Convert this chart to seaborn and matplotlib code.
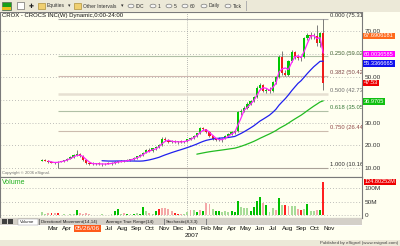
import numpy as np
import pandas as pd
import matplotlib
matplotlib.use("Agg")
import matplotlib.pyplot as plt
import matplotlib.transforms as mtransforms
from matplotlib.patches import Rectangle, Circle
import seaborn as sns

# ---------------- data (weekly CROX bars) ----------------
week_end = pd.date_range("2006-02-17", periods=90, freq="7D")

opens = [13.4, 13.6, 13.3, 12.7, 12.4, 12.6, 12.9, 13.2, 13.6, 14.2,
         15.0, 15.8, 16.2, 15.4, 13.8, 12.3, 12.1, 11.8, 12.2, 11.9,
         11.7, 12.1, 12.0, 12.4, 12.8, 13.1, 12.9, 13.4, 13.7, 14.0,
         14.5, 15.2, 16.0, 16.9, 18.1, 17.5, 18.7, 19.3, 20.2, 23.0,
         22.3, 21.6, 21.8, 21.4, 21.7, 21.5, 21.9, 22.7, 23.3, 24.2,
         25.3, 27.5, 27.0, 26.1, 24.2, 23.0, 22.5, 22.2, 23.0, 24.2,
         25.0, 26.0, 26.3, 34.6, 35.2, 36.6, 38.3, 39.4, 41.1, 45.2,
         46.6, 44.0, 44.4, 43.9, 47.6, 49.8, 58.9, 51.8, 51.0, 56.9,
         60.9, 58.5, 58.2, 58.6, 67.0, 68.5, 68.0, 67.7, 64.6, 69.2]
highs = [14.2, 14.0, 13.6, 13.1, 12.9, 13.2, 13.4, 13.8, 14.4, 15.2,
         16.3, 18.0, 16.6, 15.7, 14.1, 12.9, 12.6, 12.5, 12.6, 12.3,
         12.4, 12.6, 12.6, 13.0, 13.3, 13.5, 13.6, 13.9, 14.2, 14.8,
         15.5, 16.3, 17.2, 18.4, 18.8, 19.0, 19.8, 20.6, 23.5, 23.6,
         22.8, 22.2, 22.3, 22.0, 22.2, 22.1, 23.0, 23.6, 24.5, 25.6,
         28.0, 28.3, 27.4, 26.4, 24.6, 23.4, 23.5, 23.2, 24.5, 25.3,
         26.4, 26.8, 34.9, 35.8, 37.2, 38.8, 40.0, 41.6, 45.8, 47.3,
         47.0, 45.3, 45.6, 48.2, 50.3, 59.6, 61.5, 53.2, 57.4, 61.6,
         61.3, 59.4, 59.3, 67.5, 69.3, 69.6, 69.0, 72.7, 69.8, 75.31]
lows = [13.0, 13.1, 12.5, 12.2, 12.1, 10.16, 12.6, 12.9, 13.3, 13.9,
        14.6, 15.4, 15.1, 13.4, 11.9, 11.6, 11.4, 11.3, 11.5, 11.2,
        11.4, 11.7, 11.6, 12.1, 12.3, 12.6, 12.7, 13.0, 13.3, 13.7,
        14.2, 14.9, 15.6, 16.5, 17.1, 17.2, 18.2, 18.9, 19.9, 21.9,
        21.3, 21.0, 21.1, 20.8, 21.0, 20.9, 21.6, 22.3, 23.0, 23.9,
        25.0, 26.6, 25.6, 23.8, 22.6, 21.9, 21.8, 21.7, 22.7, 23.8,
        24.6, 25.2, 26.0, 33.5, 34.6, 36.0, 37.6, 38.8, 40.7, 44.3,
        43.6, 42.9, 43.1, 43.5, 46.9, 49.3, 51.0, 50.2, 50.6, 56.3,
        57.7, 57.4, 57.1, 58.1, 66.1, 66.7, 66.5, 63.4, 63.0, 44.2]
closes = [13.6, 13.3, 12.7, 12.4, 12.6, 12.9, 13.2, 13.6, 14.2, 15.0,
          15.8, 16.2, 15.4, 13.8, 12.3, 12.1, 11.8, 12.2, 11.9, 11.7,
          12.1, 12.0, 12.4, 12.8, 13.1, 12.9, 13.4, 13.7, 14.0, 14.5,
          15.2, 16.0, 16.9, 18.1, 17.5, 18.7, 19.3, 20.2, 23.0, 22.3,
          21.6, 21.8, 21.4, 21.7, 21.5, 21.9, 22.7, 23.3, 24.2, 25.3,
          27.5, 27.0, 26.1, 24.2, 23.0, 22.5, 22.2, 23.0, 24.2, 25.0,
          26.0, 26.3, 34.6, 35.2, 36.6, 38.3, 39.4, 41.1, 45.2, 46.6,
          44.0, 44.4, 43.9, 47.6, 49.8, 58.9, 51.8, 51.0, 56.9, 60.9,
          58.5, 58.2, 58.6, 67.0, 68.5, 68.0, 67.7, 64.6, 69.2, 47.53]
volume_m = [12, 5, 11, 9, 8, 9, 3, 4, 3, 5,
            6, 20, 9, 7, 8, 5, 3, 3, 3, 4,
            3, 3, 4, 15, 25, 6, 11, 7, 6, 7,
            8, 6, 32, 15, 9, 6, 15, 25, 26, 27,
            25, 15, 9, 6, 5, 4, 13, 19, 22, 12,
            20, 18, 48, 42, 25, 16, 16, 13, 16, 13,
            16, 14, 55, 31, 29, 26, 16, 30, 55, 68,
            45, 38, 12, 29, 20, 65, 38, 38, 35, 35,
            35, 25, 22, 25, 42, 16, 18, 20, 20, 124.8]
volume_tone = ("ggrRrRgggg" "gGrrrrggrg" "gggGGgrGgG" "gGGgrgGRrr" "rrRRrggrgG"
               "rGrrgGGggg" "GGGgggGGGG" "rGggrGgRrg" "grRgGggrGR")

fib_ratios = [0.000, 0.250, 0.382, 0.500, 0.618, 0.750, 1.000]
fib_prices = [75.31, 59.02, 50.42, 42.73, 35.05, 26.44, 10.16]

price_ticks = [10, 20, 30, 40, 50, 60, 70]
# 40.00 and 60.00 sit under the value boxes in the original, so they are not shown
price_tick_labels = ["10.00", "20.00", "30.00", "", "50.00", "", "70.00"]
vol_ticks = [0, 50, 100]
vol_tick_labels = ["0", "50M", "100M"]

month_dates = ["2006-03-01", "2006-04-01", "2006-07-01", "2006-08-01", "2006-09-01",
               "2006-10-01", "2006-11-01", "2006-12-01", "2007-01-01", "2007-02-01",
               "2007-03-01", "2007-04-01", "2007-05-01", "2007-06-01", "2007-07-01",
               "2007-08-01", "2007-09-01", "2007-10-01", "2007-11-01"]
month_labels = ["Mar", "Apr", "Jul", "Aug", "Sep", "Oct", "Nov", "Dec", "Jan", "Feb",
                "Mar", "Apr", "May", "Jun", "Jul", "Aug", "Sep", "Oct", "Nov"]
cursor_date = "2006-05-26"
cursor_label = "05/26/06"
title = "CROX - CROCS INC(W) Dynamic,0:00-24:00"
tab_labels = ["Volume", "Directional Movement(14,14)", "Average True Range(14)", "Stochastic(8,3,3)"]
value_boxes = [("67.6906181", 67.9, "#ff6a1a"),
               ("60.0036585", 59.9, "#ff00ff"),
               ("55.3366665", 55.9, "#1010ee"),
               ("47.53", 47.4, "#ee0000"),
               ("36.9705", 39.2, "#10c010")]
volume_box = ("124.80252M", 124.8, "#ee0000")

# ---------------- styling / layout ----------------
sns.set_style("white")
plt.rcParams["font.family"] = ["Liberation Sans", "DejaVu Sans"]

W, H = 400, 246
def fx(x):
    return x / W
def fy(y):
    return 1 - y / H

cream = "#fffff0"
fig = plt.figure(figsize=(4, 2.46), dpi=100)
fig.patch.set_facecolor(cream)

slot_px, first_px = 3.16, 42.0
x_lo = -first_px / slot_px
x_hi = (362 - first_px) / slot_px

ax = fig.add_axes([0, fy(177), 362 / W, (177 - 12) / H])
ax_vol = fig.add_axes([0, fy(218), 362 / W, (218 - 177) / H])
for a in (ax, ax_vol):
    a.set_facecolor(cream)
    for s in a.spines.values():
        s.set_color("#7a7a7a")
        s.set_linewidth(0.8)

idx = np.arange(len(closes))
o = np.array(opens); c = np.array(closes); hi = np.array(highs); lo = np.array(lows)
up = c >= o

# grid
ax.set_yticks(price_ticks)
ax.set_yticklabels(price_tick_labels)
ax.grid(axis="y", linestyle=(0, (1, 2.5)), color="#a8a8a8", linewidth=0.6)
ax.grid(axis="x", visible=False)

# fib lines (labels are cut by the price scale, as in the original)
fib_start = int(np.argmin(lo))
fib_end = len(closes) - 1 + 1.5
fib_line_colors = ["#a8a8a8", "#b0c0a6", "#d0b8b0", "#e6e0d2", "#b0c0a6", "#ccbcae", "#aaa298"]
fib_text_colors = ["#303030", "#4a6a3a", "#804848", "#707070", "#3a7a3a", "#904848", "#303030"]
fib_lw = [0.8, 0.8, 0.8, 1.8, 0.8, 0.8, 0.8]
for r, p, lc, tc, lw in zip(fib_ratios, fib_prices, fib_line_colors, fib_text_colors, fib_lw):
    ax.hlines(p, fib_start, fib_end, color=lc, linewidth=lw, zorder=2)
    ax.text(fib_end + 0.6, p + 0.3, f"{r:.3f} ({p:.2f}", color=tc, fontsize=4.2,
            va="bottom", ha="left", clip_on=True, zorder=6)

# moving averages
df = pd.DataFrame({"week": idx, "close": c})
df["ma3"] = df["close"].rolling(3).mean()
df["ma20"] = df["close"].rolling(20).mean()
df["ma50"] = df["close"].rolling(50).mean()
sns.lineplot(data=df, x="week", y="ma50", ax=ax, color="#22bb22", linewidth=0.9, zorder=5)
sns.lineplot(data=df, x="week", y="ma20", ax=ax, color="#2020ee", linewidth=0.9, zorder=5)
sns.lineplot(data=df, x="week", y="ma3", ax=ax, color="#ff22ff", linewidth=0.9, zorder=5)

# candles
ax.vlines(idx, lo, hi, color="#666666", linewidth=0.6, zorder=3)
body_bottom = np.minimum(o, c)
body_h = np.maximum(np.abs(c - o), 0.35)
ax.bar(idx, body_h, bottom=body_bottom, width=0.7,
       color=np.where(up, "#00c800", "#ee1c1c"), linewidth=0, zorder=4)

ax.set_xlim(x_lo, x_hi)
ax.set_ylim(6.22, 78.37)
ax.set_xlabel(""); ax.set_ylabel("")
ax.yaxis.tick_right()
ax.tick_params(axis="y", length=0, pad=2, labelsize=4.6, labelcolor="#303030")
ax.tick_params(axis="x", bottom=False, labelbottom=False)

blend = mtransforms.blended_transform_factory(ax.transAxes, ax.transData)
for txt, val, col in value_boxes:
    ax.text(1.006, val, txt, transform=blend, clip_on=False, va="center", ha="left",
            fontsize=4.1, color="white", zorder=10,
            bbox=dict(boxstyle="square,pad=0.12", fc=col, ec="none"))

ax.text(0.005, 8.0, "Copyright \u00a9 2006 eSignal.", transform=blend, fontsize=3.0,
        color="#707070", va="center", ha="left")

# volume
tone_colors = {"G": "#00c000", "g": "#a8dc98", "R": "#ff2020", "r": "#f4a8a8"}
ax_vol.bar(idx, volume_m, width=0.6, color=[tone_colors[t] for t in volume_tone],
           linewidth=0, zorder=3)
ax_vol.set_xlim(x_lo, x_hi)
ax_vol.set_ylim(-9.3, 142.6)
ax_vol.set_yticks(vol_ticks)
ax_vol.set_yticklabels(vol_tick_labels)
ax_vol.yaxis.tick_right()
ax_vol.tick_params(axis="y", length=0, pad=2, labelsize=4.6, labelcolor="#303030")
ax_vol.tick_params(axis="x", bottom=False, labelbottom=False)
ax_vol.grid(axis="y", linestyle=(0, (1, 2.5)), color="#a8a8a8", linewidth=0.6)
ax_vol.grid(axis="x", visible=False)
ax_vol.text(0.005, 0.86, "Volume", transform=ax_vol.transAxes, fontsize=5.0,
            color="#20b020", va="center", ha="left")
vblend = mtransforms.blended_transform_factory(ax_vol.transAxes, ax_vol.transData)
ax_vol.text(1.006, volume_box[1], volume_box[0], transform=vblend, clip_on=False,
            va="center", ha="left", fontsize=4.0, color="white",
            bbox=dict(boxstyle="square,pad=0.12", fc=volume_box[2], ec="none"))

# year separator (first bar of 2007)
first_2007 = int(np.argmax(week_end.year == 2007))
for a in (ax, ax_vol):
    a.axvline(first_2007, color="#a0a0a0", linestyle=(0, (1, 1.5)), linewidth=0.6, zorder=1)

# ---------------- chrome: toolbar, tab bar, date axis, footer ----------------
def px_rect(x0, y0, x1, y1, **kw):
    fig.add_artist(Rectangle((fx(x0), fy(y1)), (x1 - x0) / W, (y1 - y0) / H,
                             transform=fig.transFigure, **kw))

px_rect(0, 0, 400, 11.5, fc="#ece9d8", ec="none")
px_rect(0, 225, 362, 225.6, fc="#ffffff", ec="none")
px_rect(0, 218, 362, 225, fc="#d4d0c8", ec="none")
px_rect(0, 240, 400, 246, fc="#ece9d8", ec="none")
px_rect(0, 239.6, 400, 240.2, fc="#b0b0b0", ec="none")

tb = dict(fontsize=3.6, color="#303030", va="center", ha="left")
ty = fy(6)
px_rect(2, 2, 11, 10, fc="#18a018", ec="#505050", lw=0.4)
px_rect(2, 7, 11, 10, fc="#e8c020", ec="none")
px_rect(17, 2, 24, 9, fc="#ffffff", ec="#505050", lw=0.4)
fig.text(fx(28.5), ty, "\u271a", fontsize=4.2, color="#202020", va="center", ha="left",
         family="DejaVu Sans")
for x0, x1 in [(38, 45), (74, 81)]:
    px_rect(x0, 3, x1, 9, fc="#f0d070", ec="#a08020", lw=0.4)
fig.text(fx(47), ty, "Equities", **tb)
fig.text(fx(67.5), ty, "\u25be", family="DejaVu Sans", **tb)
fig.text(fx(83), ty, "Other Intervals", **tb)
fig.text(fx(121), ty, "\u25be", family="DejaVu Sans", **tb)
for cx, lab in [(131, "IDC"), (153, "1"), (169, "5"), (185, "60"), (204, "Daily"), (228, "Tick")]:
    fig.add_artist(Circle((fx(cx), ty), 3.0 / W, transform=fig.transFigure,
                          fc="#f4f4f4", ec="#606060", lw=0.4))
    fig.text(fx(cx + 4.5), ty, lab, **tb)
px_rect(246, 1, 246.6, 10.5, fc="#b0b0b0", ec="none")

fig.text(fx(2), fy(15.5), title, fontsize=4.3, color="#101010", va="center", ha="left")

# tab bar
px_rect(1.5, 219, 6.5, 224, fc="#404040", ec="none")
px_rect(7.5, 219, 12.5, 224, fc="#404040", ec="none")
px_rect(18, 218.5, 38, 225, fc="#ffffff", ec="#909090", lw=0.3)
tab = dict(fontsize=3.2, color="#202020", va="center", ha="left")
for tx, lab in zip([20, 41, 106, 166], tab_labels):
    fig.text(fx(tx), fy(221.8), lab, **tab)
for sx in [39, 104, 164, 206]:
    px_rect(sx, 218.5, sx + 0.5, 225, fc="#808080", ec="none")

# date axis labels
start = week_end[0]
def week_pos(d):
    return (pd.Timestamp(d) - start).days / 7.0

dtrans = mtransforms.blended_transform_factory(ax.transData, fig.transFigure)
for d, lab in zip(month_dates, month_labels):
    fig.text(week_pos(d) + 1.9, fy(228.8), lab, transform=dtrans, fontsize=4.6,
             color="#101010", ha="center", va="center")
fig.text(week_pos("2007-01-01") + 1.9, fy(235.8), "2007", transform=dtrans, fontsize=4.6,
         color="#101010", ha="center", va="center")
fig.text(week_pos(cursor_date) + 0.3, fy(228.8), cursor_label, transform=dtrans,
         fontsize=4.6, color="white", ha="center", va="center",
         bbox=dict(boxstyle="square,pad=0.15", fc="#ff5a1a", ec="none"))

fig.text(fx(398), fy(243.2), "Published by eSignal (www.esignal.com)", fontsize=3.2,
         color="#404040", ha="right", va="center")

fig.savefig("out.png", dpi=100, facecolor=fig.get_facecolor())
